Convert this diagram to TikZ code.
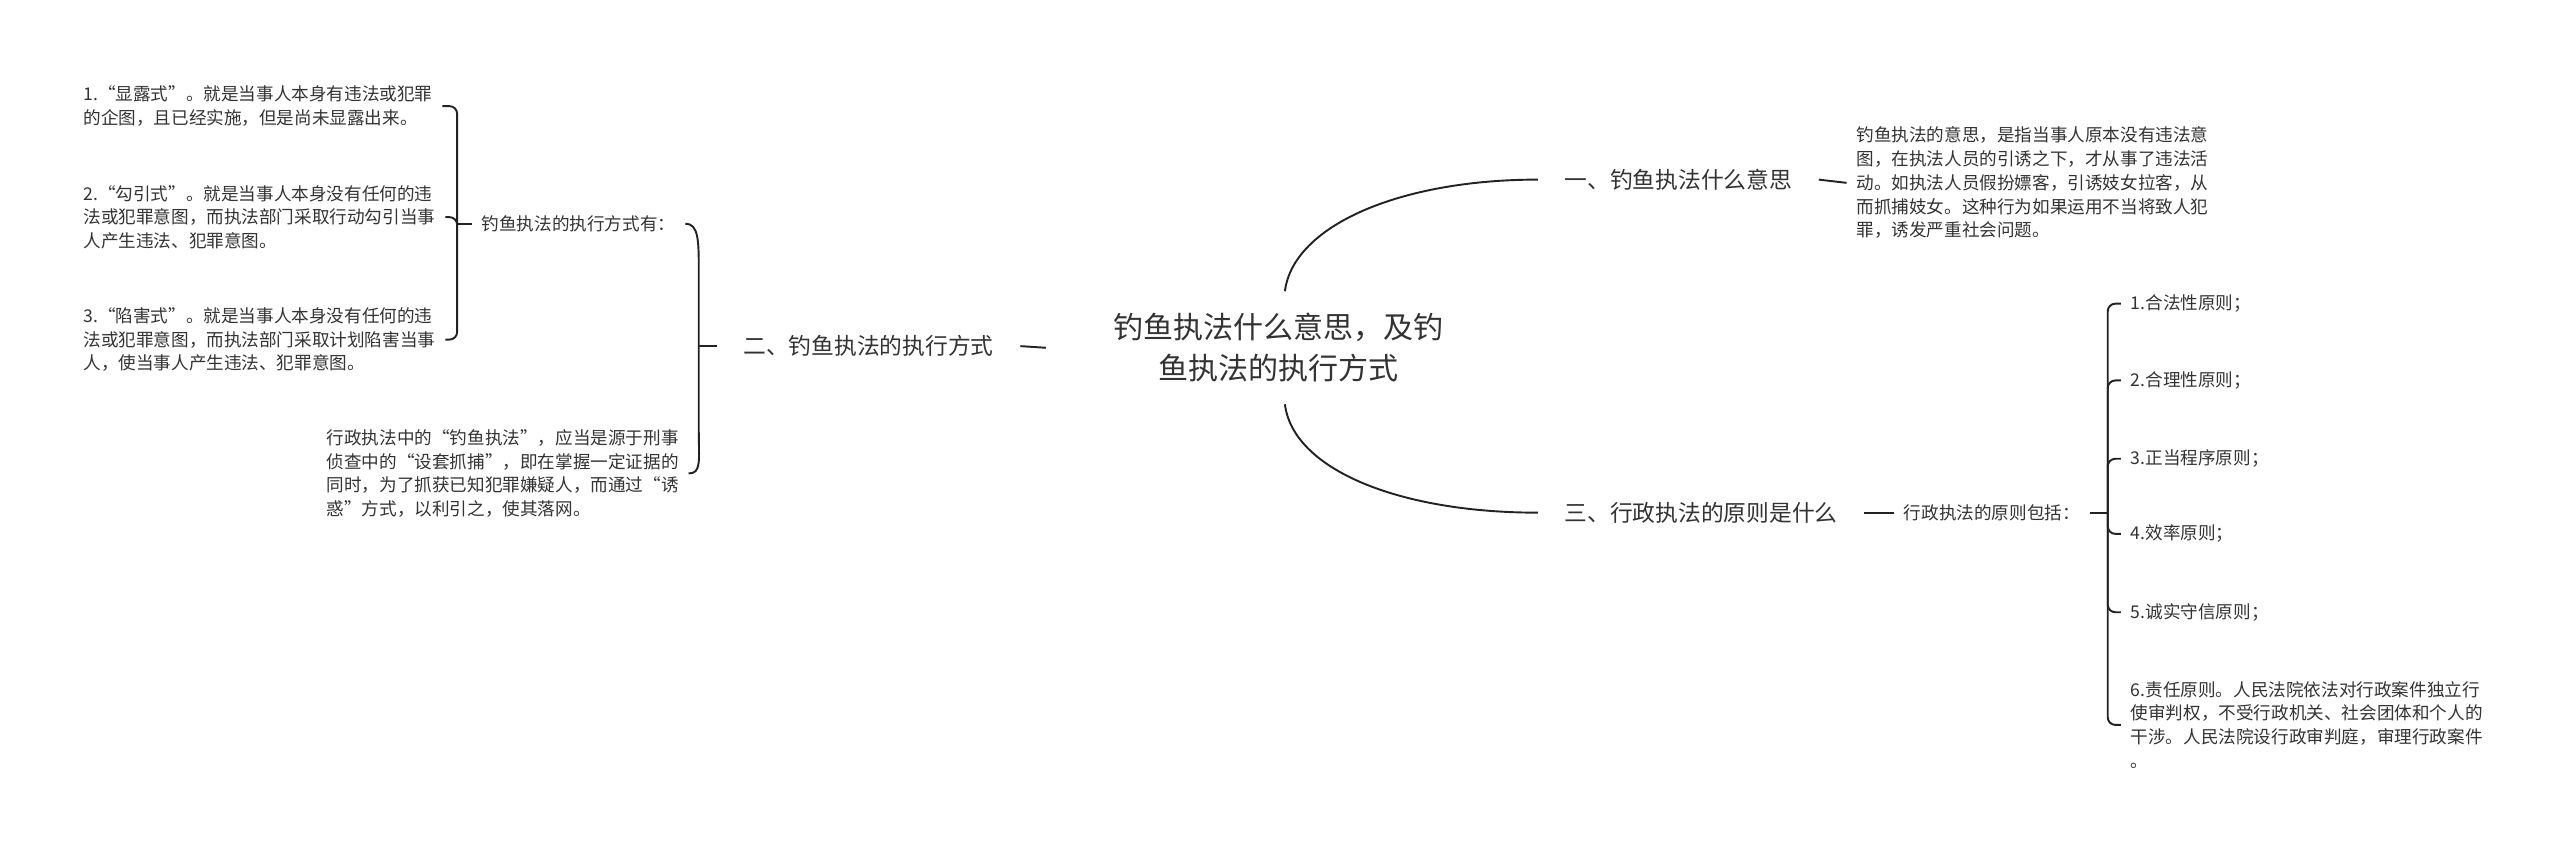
\documentclass[tikz,border=0pt]{standalone}
\usepackage{fontspec}
\newfontfamily\cjk{Noto Sans CJK SC}
\definecolor{mmtext}{RGB}{51,51,51}
\definecolor{mmline}{RGB}{34,34,34}

\begin{document}
\begin{tikzpicture}[x=0.03cm,y=-0.03cm,
  every node/.style={font=\cjk,text=mmtext},
  small/.style={font=\cjk\fontsize{9.2}{12.4}\selectfont,align=left,inner sep=5pt,anchor=west},
  topic/.style={font=\cjk\fontsize{11.9}{14}\selectfont,inner sep=13.7pt,anchor=west},
  branch/.style={draw=mmline,line width=1pt},
  hook/.style={branch,rounded corners=4pt}]
  \fill[white] (0,0) rectangle (1568,522);
  \useasboundingbox (0,0) rectangle (1568,522);
  % Root
  \node[font=\cjk\fontsize{15.7}{21.3}\selectfont,align=center,inner xsep=1.23cm,inner ysep=0.4cm]
    (root) at (783,213) {钓鱼执法什么意思，及钓\\鱼执法的执行方式};
  % Left branch
  \node[topic] (way) at (439,212) {二、钓鱼执法的执行方式};
  \node[small] (waysum) at (289,137) {钓鱼执法的执行方式有：};
  \node[small] (way1) at (45,65)
    {1.“显露式”。就是当事人本身有违法或犯罪\\的企图，且已经实施，但是尚未显露出来。};
  \node[small] (way2) at (45,133)
    {2.“勾引式”。就是当事人本身没有任何的违\\法或犯罪意图，而执法部门采取行动勾引当事\\人产生违法、犯罪意图。};
  \node[small] (way3) at (45,208)
    {3.“陷害式”。就是当事人本身没有任何的违\\法或犯罪意图，而执法部门采取计划陷害当事\\人，使当事人产生违法、犯罪意图。};
  \node[small] (wayadmin) at (194,290)
    {行政执法中的“钓鱼执法”，应当是源于刑事\\侦查中的“设套抓捕”，即在掌握一定证据的\\同时，为了抓获已知犯罪嫌疑人，而通过“诱\\惑”方式，以利引之，使其落网。};
  % Right branches
  \node[topic] (meaning) at (942,110) {一、钓鱼执法什么意思};
  \node[small] (meandesc) at (1131,112)
    {钓鱼执法的意思，是指当事人原本没有违法意\\图，在执法人员的引诱之下，才从事了违法活\\动。如执法人员假扮嫖客，引诱妓女拉客，从\\而抓捕妓女。这种行为如果运用不当将致人犯\\罪，诱发严重社会问题。};
  \node[topic] (principle) at (942,314) {三、行政执法的原则是什么};
  \node[small] (prinsum) at (1160,314) {行政执法的原则包括：};
  \node[small] (prin1) at (1299,186) {1.合法性原则；};
  \node[small] (prin2) at (1299,233) {2.合理性原则；};
  \node[small] (prin3) at (1299,281) {3.正当程序原则；};
  \node[small] (prin4) at (1299,327) {4.效率原则；};
  \node[small] (prin5) at (1299,375) {5.诚实守信原则；};
  \node[small] (prin6) at (1299,444)
    {6.责任原则。人民法院依法对行政案件独立行\\使审判权，不受行政机关、社会团体和个人的\\干涉。人民法院设行政审判庭，审理行政案件\\。};
  % Connectors
  \draw[branch] ([xshift=0.12cm]root.north) .. controls +(5,-40) and +(-85,0) .. (meaning.west);
  \draw[branch] ([xshift=0.12cm]root.south) .. controls +(5,40) and +(-85,0) .. (principle.west);
  \draw[branch] (root.west) -- (way.east);
  \draw[branch] (meaning.east) -- (meandesc.west);
  \draw[branch] (principle.east) -- (prinsum.west);
  \draw[branch] (way.west) -- ++(-11,0) coordinate (wayfork);
  \draw[branch] (wayfork) -- ++(0,-47) .. controls +(0,-18) and +(8,0) .. (waysum.east);
  \draw[branch] (wayfork) -- ++(0,52) .. controls +(0,18) and +(8,0) .. (wayadmin.east);
  \draw[branch] (waysum.west) -- ++(-9,0) coordinate (sumfork);
  \foreach \i in {1,2,3} \draw[hook] (sumfork) |- (way\i.east);
  \draw[branch] (prinsum.east) -- ++(11,0) coordinate (prinfork);
  \foreach \i in {1,...,6} \draw[hook] (prinfork) |- (prin\i.west);
\end{tikzpicture}
\end{document}
